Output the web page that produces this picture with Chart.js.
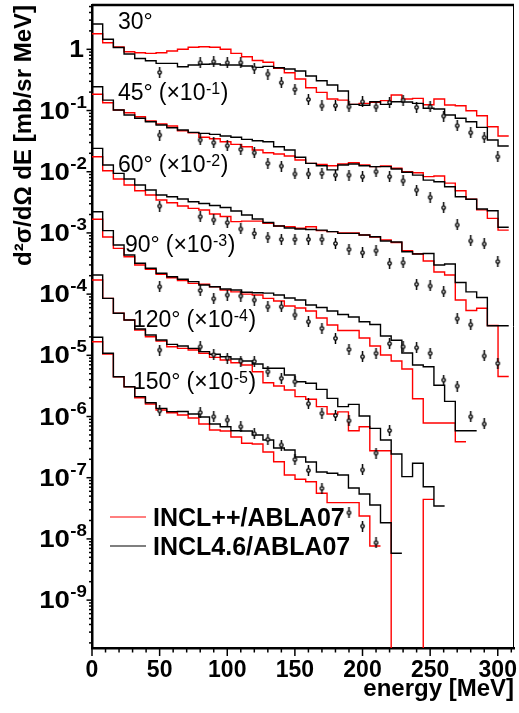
<!DOCTYPE html>
<html>
<head>
<meta charset="utf-8">
<script src="https://cdn.jsdelivr.net/npm/chart.js@4.4.1/dist/chart.umd.min.js"></script>
<style>
  html, body { margin: 0; padding: 0; background: #fff; }
  canvas { display: block; }
</style>
</head>
<body>
<canvas id="spectra" width="519" height="713"></canvas>
<script>
var FONT = '"Liberation Sans", Arial, Helvetica, sans-serif';

// model histograms: bin width in MeV, first bin starts at 0
var binWidth = 7.9;

// energies of the measured points (MeV)
var expEnergy = [50, 80, 90, 100, 110, 120, 130, 140, 150, 160, 170, 180, 190, 200,
                 210, 220, 230, 240, 250, 260, 270, 280, 290, 300];

var xTickValues = [0, 50, 100, 150, 200, 250, 300];
var yDecadeExps = [0, -1, -2, -3, -4, -5, -6, -7, -8, -9];

var seriesNames = ['INCL++/ABLA07', 'INCL4.6/ABLA07'];
var angleNames = ['30°', '45°', '60°', '90°', '120°', '150°'];
var angleScaleExp = [0, -1, -2, -3, -4, -5];

// 30 deg
var inclpp30 = [1.80, 1.28, 1.09, 0.914, 0.88, 0.86, 0.88, 0.938, 1.0, 1.08, 1.10, 1.08, 1.0, 0.86, 0.757,
  0.656, 0.614, 0.49, 0.415, 0.327, 0.236, 0.198, 0.154, 0.148, 0.126, 0.131, 0.136, 0.145, 0.179,
  0.154, 0.158, 0.124, 0.154, 0.123, 0.12, 0.099, 0.082, 0.0543, 0.0383];
var incl46_30 = [2.59, 1.46, 1.07, 0.84, 0.71, 0.65, 0.59, 0.59, 0.52, 0.554, 0.569, 0.575, 0.554, 0.554,
  0.533, 0.508, 0.527, 0.50, 0.477, 0.442, 0.366, 0.307, 0.261, 0.208, 0.126, 0.122, 0.139, 0.126,
  0.139, 0.138, 0.131, 0.109, 0.106, 0.0844, 0.0746, 0.0656, 0.0531, 0.033, 0.0263];
var exp30 = [0.421, 0.604, 0.627, 0.604, 0.604, 0.49, 0.395, 0.285, 0.222, 0.152, 0.119, 0.12, 0.115,
  0.139, 0.115, 0.136, 0.148, 0.113, 0.115, 0.0813, 0.0565, 0.0434, 0.0365, 0.0176];

// 45 deg (x 1e-1)
var inclpp45 = [0.184, 0.134, 0.102, 0.092, 0.0792, 0.0674, 0.0602, 0.0558, 0.0468, 0.0434, 0.0365,
  0.0346, 0.0309, 0.028, 0.0256, 0.0226, 0.0204, 0.0195, 0.0181, 0.0155, 0.0137, 0.0132, 0.0125,
  0.0134, 0.014, 0.0129, 0.0121, 0.0124, 0.0114, 0.01, 0.0096, 0.0083, 0.0085, 0.0065, 0.0049,
  0.00354, 0.00238, 0.00173, 0.00111];
var incl46_45 = [0.245, 0.148, 0.102, 0.0844, 0.0746, 0.0656, 0.058, 0.0524, 0.048, 0.044, 0.0424,
  0.0408, 0.0383, 0.0365, 0.0338, 0.0321, 0.0309, 0.0256, 0.0226, 0.0172, 0.0137, 0.0125, 0.0107,
  0.0129, 0.0134, 0.0125, 0.0121, 0.0121, 0.0111, 0.0098, 0.0088, 0.0073, 0.00687, 0.00569, 0.0039,
  0.00354, 0.00246, 0.0023, 0.00124];
var exp45 = [0.0398, 0.033, 0.0298, 0.0266, 0.0232, 0.0204, 0.0137, 0.0124, 0.0092, 0.0092, 0.0094,
  0.0088, 0.0088, 0.0083, 0.01, 0.0083, 0.0071, 0.00502, 0.00382, 0.00258, 0.00135, 0.00074,
  0.00066, 0.00034];

// 60 deg (x 1e-2)
var inclpp60 = [0.0176, 0.0104, 0.0076, 0.00607, 0.0049, 0.00416, 0.00345, 0.00311, 0.00275, 0.00252,
  0.00237, 0.00204, 0.00185, 0.00153, 0.00156, 0.00156, 0.00144, 0.0013, 0.00126, 0.00119, 0.00126,
  0.00109, 0.00105, 9.96e-4, 9.96e-4, 9.25e-4, 8.57e-4, 7.66e-4, 6.97e-4, 5.12e-4, 4.57e-4, 3.47e-4,
  2.3e-4, 2.05e-4, 8.01e-5, 5.4e-5, 5.86e-5, 3.07e-5, 4.51e-6];
var incl46_60 = [0.0241, 0.01286, 0.00941, 0.0076, 0.00607, 0.00502, 0.00416, 0.00391, 0.00358,
  0.00324, 0.00302, 0.00281, 0.0026, 0.00228, 0.00196, 0.00169, 0.00148, 0.0013, 0.0012, 0.00116,
  0.00114, 0.00111, 0.00105, 9.84e-4, 9.84e-4, 9.25e-4, 8.67e-4, 7.38e-4, 7.1e-4, 4.93e-4, 4.52e-4,
  4.61e-4, 2.99e-4, 3.1e-4, 1.55e-4, 1.09e-4, 8.79e-5, 3.05e-5, 3.05e-5];
var exp60 = [0.00275, 0.00184, 0.00163, 0.00147, 0.00116, 9.77e-4, 8.48e-4, 7.86e-4, 7.86e-4, 7.86e-4,
  7.86e-4, 6.71e-4, 5.39e-4, 4.75e-4, 5.12e-4, 3.19e-4, 3.26e-4, 1.45e-4, 1.36e-4, 1.09e-4, 3.96e-5,
  3.16e-5, 9.75e-6, 7.4e-6];

// 90 deg (x 1e-3)
var inclpp90 = [0.00167, 8.57e-4, 5.6e-4, 4.08e-4, 2.99e-4, 2.54e-4, 2.11e-4, 1.85e-4, 1.66e-4, 1.5e-4,
  1.45e-4, 1.32e-4, 1.17e-4, 1.09e-4, 1.0e-4, 9.66e-5, 8.53e-5, 7.71e-5, 6.4e-5, 5.93e-5, 5.3e-5,
  4.07e-5, 3.13e-5, 2.54e-5, 2.55e-5, 1.92e-5, 1.42e-5, 1.01e-5, 8.07e-6, 5.97e-6, 1.95e-6, 7.83e-7,
  7.83e-7, 7.83e-7, 3.87e-7];
var incl46_90 = [0.00222, 0.00109, 6.34e-4, 4.35e-4, 3.19e-4, 2.64e-4, 2.19e-4, 1.92e-4, 1.75e-4,
  1.6e-4, 1.41e-4, 1.32e-4, 1.21e-4, 1.17e-4, 1.07e-4, 1.05e-4, 1.04e-4, 9.66e-5, 8.63e-5, 8.01e-5,
  6.64e-5, 6.04e-5, 5.3e-5, 4.64e-5, 4.23e-5, 3.54e-5, 3.19e-5, 2.07e-5, 1.76e-5, 1.09e-5, 6.95e-6,
  6.52e-6, 3.24e-6, 1.77e-6, 5.86e-7, 5.86e-7];
var exp90 = [1.32e-4, 1.15e-4, 8.41e-5, 9.66e-5, 9.31e-5, 8.01e-5, 6.22e-5, 6.22e-5, 4.56e-5, 3.54e-5,
  2.76e-5, 1.9e-5, 1.25e-5, 9.48e-6, 1.08e-5, 1.55e-5, 1.38e-5, 1.33e-5, 1.08e-5, 3.95e-6, 3.15e-6,
  9.93e-7, 7.55e-7];

// 120 deg (x 1e-4)
var inclpp120 = [1.7e-4, 8.53e-5, 4.86e-5, 3.77e-5, 2.59e-5, 2.01e-5, 1.71e-5, 1.38e-5, 1.3e-5, 1.22e-5,
  1.08e-5, 9.27e-6, 8.38e-6, 7.57e-6, 6.95e-6, 5.4e-6, 3.57e-6, 3.15e-6, 2.71e-6, 2.11e-6, 1.91e-6,
  1.45e-6, 1.1e-6, 1.19e-6, 5.86e-7, 6.81e-7, 2.76e-7, 2.76e-7, 0, 0, 0, 4.43e-8];
var incl46_120 = [2.05e-4, 8.53e-5, 4.86e-5, 3.77e-5, 2.69e-5, 2.15e-5, 1.78e-5, 1.51e-5, 1.42e-5,
  1.3e-5, 1.15e-5, 1.04e-5, 9.48e-6, 8.71e-6, 8.07e-6, 7.21e-6, 6.14e-6, 6.14e-6, 4.77e-6, 3.7e-6,
  3.49e-6, 2.78e-6, 1.98e-6, 1.45e-6, 1.58e-6, 1.02e-6, 6.41e-7, 4.13e-7, 2.44e-7, 1.04e-7, 1.72e-7,
  7.13e-8, 3.45e-8];
var exp120 = [1.22e-5, 1.38e-5, 1.02e-5, 9.03e-6, 8.07e-6, 7.98e-6, 5.4e-6, 4.21e-6, 3.7e-6, 1.62e-6,
  1.13e-6, 1.04e-6, 8.53e-7, 1.34e-7, 2.53e-7, 5.9e-7];

// 150 deg (x 1e-5)
var inclpp150 = [1.67e-5, 1.05e-5, 4.47e-6, 3.07e-6, 2.03e-6, 1.6e-6, 1.28e-6, 1.15e-6, 1.06e-6, 9.45e-7,
  7.54e-7, 6.02e-7, 5.8e-7, 4.62e-7, 3.65e-7, 3.56e-7, 2.63e-7, 1.82e-7, 1.11e-7, 9.42e-8, 8.61e-8,
  5.56e-8, 3.91e-8, 3.91e-8, 3.91e-8, 2.37e-8, 7.66e-9];
var incl46_150 = [1.97e-5, 1.08e-5, 4.47e-6, 3.07e-6, 2.11e-6, 1.68e-6, 1.36e-6, 1.2e-6, 1.21e-6, 1.1e-6,
  9.82e-7, 7.54e-7, 6.81e-7, 5.86e-7, 5.8e-7, 4.99e-7, 4.13e-7, 3.06e-7, 2.84e-7, 2.18e-7, 1.81e-7,
  1.24e-7, 1.18e-7, 1.11e-7, 6.79e-8, 5.42e-8, 3.58e-8, 1.84e-8, 5.82e-9];
var exp150 = [1.24e-6, 1.16e-6, 9.93e-7, 8.77e-7, 6.81e-7, 5.24e-7, 4.24e-7, 3.42e-7, 1.98e-7, 1.32e-7,
  6.71e-8, null, 2.68e-8, 1.62e-8, 8.67e-9];

var inclppAll = [inclpp30, inclpp45, inclpp60, inclpp90, inclpp120, inclpp150];
var incl46All = [incl46_30, incl46_45, incl46_60, incl46_90, incl46_120, incl46_150];
var expAll = [exp30, exp45, exp60, exp90, exp120, exp150];

// histogram -> step points at bin left edges (empty bins go below the frame)
function histo(values) {
  var pts = values.map(function (v, i) {
    return { x: i * binWidth, y: v > 0 ? v : 1e-12 };
  });
  pts.push({ x: values.length * binWidth, y: pts[pts.length - 1].y });
  return pts;
}

function measured(values) {
  return expEnergy.map(function (e, i) {
    return { x: e, y: values[i] };
  }).filter(function (p) { return p.y != null; });
}

// small open circle with a vertical error bar
function makeMarker() {
  var c = document.createElement('canvas');
  c.width = 7;
  c.height = 11;
  var g = c.getContext('2d');
  g.strokeStyle = '#000';
  g.lineWidth = 1.5;
  g.beginPath();
  g.moveTo(3.5, 0);
  g.lineTo(3.5, 11);
  g.stroke();
  g.beginPath();
  g.arc(3.5, 5.5, 1.7, 0, Math.PI * 2);
  g.fillStyle = '#fff';
  g.fill();
  g.lineWidth = 1.3;
  g.stroke();
  return c;
}
var marker = makeMarker();

var datasets = [];
for (var a = 0; a < angleNames.length; a++) {
  datasets.push({
    label: 'data ' + angleNames[a],
    data: measured(expAll[a]),
    showLine: false,
    pointStyle: marker,
    pointRadius: 4,
    order: 0
  });
  datasets.push({
    label: seriesNames[1],
    data: histo(incl46All[a]),
    borderColor: '#000',
    borderWidth: 1.4,
    stepped: 'before',
    pointRadius: 0,
    fill: false,
    order: 1
  });
  datasets.push({
    label: seriesNames[0],
    data: histo(inclppAll[a]),
    borderColor: '#ff0000',
    borderWidth: 1.4,
    stepped: 'before',
    pointRadius: 0,
    fill: false,
    order: 2
  });
}

// frame, tick marks, y labels, angle labels and legend
var decorations = {
  id: 'decorations',
  afterDraw: function (chart) {
    var ctx = chart.ctx;
    var area = chart.chartArea;
    var xs = chart.scales.x;
    var ys = chart.scales.y;
    ctx.save();
    ctx.strokeStyle = '#000';
    ctx.fillStyle = '#000';

    // top and right side of the frame
    ctx.lineWidth = 2.5;
    ctx.beginPath();
    ctx.moveTo(area.left, area.top);
    ctx.lineTo(area.right, area.top);
    ctx.stroke();
    ctx.lineWidth = 1;
    ctx.beginPath();
    ctx.moveTo(area.right - 0.5, area.top);
    ctx.lineTo(area.right - 0.5, area.bottom);
    ctx.stroke();

    // x tick marks every 10 MeV
    ctx.lineWidth = 1.5;
    for (var e = 0; e <= xs.max; e += 10) {
      var px = xs.getPixelForValue(e);
      var len = e % 50 === 0 ? 8 : 4.5;
      ctx.beginPath();
      ctx.moveTo(px, area.bottom);
      ctx.lineTo(px, area.bottom + len);
      ctx.stroke();
    }

    // y tick marks
    for (var n = -10; n <= 1; n++) {
      for (var m = 1; m <= 9; m++) {
        var v = m * Math.pow(10, n);
        if (v < ys.min || v > ys.max) continue;
        var py = ys.getPixelForValue(v);
        var l = m === 1 ? 5.5 : 3;
        ctx.beginPath();
        ctx.moveTo(area.left - l, py);
        ctx.lineTo(area.left, py);
        ctx.stroke();
      }
    }

    // y tick labels 1, 10^-1 ...
    ctx.textBaseline = 'alphabetic';
    yDecadeExps.forEach(function (k) {
      var y = ys.getPixelForValue(Math.pow(10, k));
      var right = area.left - 5;
      if (k === 0) {
        ctx.font = 'bold 23px ' + FONT;
        ctx.textAlign = 'right';
        ctx.save();
        ctx.translate(right - 3, y + 8);
        ctx.scale(1.15, 1);
        ctx.fillText('1', 0, 0);
        ctx.restore();
        return;
      }
      var sup = '-' + (-k);
      ctx.font = 'bold 17px ' + FONT;
      var ws = ctx.measureText(sup).width * 1.1;
      ctx.textAlign = 'left';
      ctx.save();
      ctx.translate(right - ws, y - 3);
      ctx.scale(1.1, 1);
      ctx.fillText(sup, 0, 0);
      ctx.restore();
      ctx.font = 'bold 23px ' + FONT;
      ctx.textAlign = 'right';
      ctx.save();
      ctx.translate(right - ws - 0.5, y + 8);
      ctx.scale(1.2, 1);
      ctx.fillText('10', 0, 0);
      ctx.restore();
    });

    // angle labels
    var labelPos = [[26, 29], [26, 100], [26, 172], [33, 251.5], [41, 326.5], [41, 389]];
    ctx.textAlign = 'left';
    angleNames.forEach(function (name, i) {
      var x = area.left + labelPos[i][0];
      var y = labelPos[i][1];
      ctx.font = '23px ' + FONT;
      ctx.fillText(name, x, y);
      if (angleScaleExp[i] === 0) return;
      x += ctx.measureText(name).width + 6;
      ctx.fillText('(\u00d710', x, y);
      x += ctx.measureText('(\u00d710').width + 0.5;
      ctx.font = '16px ' + FONT;
      var sup = '-' + (-angleScaleExp[i]);
      ctx.fillText(sup, x, y - 6);
      x += ctx.measureText(sup).width + 0.5;
      ctx.font = '23px ' + FONT;
      ctx.fillText(')', x, y);
    });

    // legend
    var legendRows = [
      { text: seriesNames[0], color: '#ff0000', y: 517 },
      { text: seriesNames[1], color: '#000', y: 546 }
    ];
    legendRows.forEach(function (row) {
      ctx.strokeStyle = row.color;
      ctx.lineWidth = 1.2;
      ctx.beginPath();
      ctx.moveTo(area.left + 18, row.y);
      ctx.lineTo(area.left + 54, row.y);
      ctx.stroke();
      ctx.fillStyle = '#000';
      ctx.font = 'bold 25px ' + FONT;
      ctx.fillText(row.text, area.left + 61, row.y + 8.5);
    });
    ctx.restore();
  }
};

function noPadding(s) {
  s.paddingLeft = 0;
  s.paddingRight = 0;
  s.paddingTop = 0;
  s.paddingBottom = 0;
}

new Chart(document.getElementById('spectra'), {
  type: 'line',
  data: { datasets: datasets },
  options: {
    responsive: false,
    animation: false,
    devicePixelRatio: 1,
    layout: { padding: { top: 5, right: 3, left: 0, bottom: 0 } },
    plugins: {
      legend: { display: false },
      tooltip: { enabled: false }
    },
    scales: {
      x: {
        type: 'linear',
        min: 0,
        max: 312,
        afterFit: function (s) { s.height = 65; noPadding(s); },
        afterBuildTicks: function (s) {
          s.ticks = xTickValues.map(function (v) { return { value: v }; });
        },
        grid: { drawOnChartArea: false, drawTicks: false },
        border: { color: '#000', width: 2.5 },
        ticks: {
          color: '#000',
          padding: 9,
          maxRotation: 0,
          font: { family: FONT, size: 23, weight: 'bold' }
        },
        title: {
          display: true,
          text: 'energy [MeV]',
          align: 'end',
          color: '#000',
          font: { family: FONT, size: 24, weight: 'bold' },
          padding: { top: 0, bottom: 9 }
        }
      },
      y: {
        type: 'logarithmic',
        min: 1.65e-10,
        max: 5.3,
        afterFit: function (s) { s.width = 92; noPadding(s); },
        grid: { drawOnChartArea: false, drawTicks: false },
        border: { color: '#000', width: 2.5 },
        ticks: { display: false },
        title: {
          display: true,
          text: 'd²σ/dΩ dE [mb/sr MeV]',
          align: 'end',
          color: '#000',
          font: { family: FONT, size: 24, weight: 'bold' },
          padding: { top: 10, bottom: 0 }
        }
      }
    }
  },
  plugins: [decorations]
});
</script>
</body>
</html>
